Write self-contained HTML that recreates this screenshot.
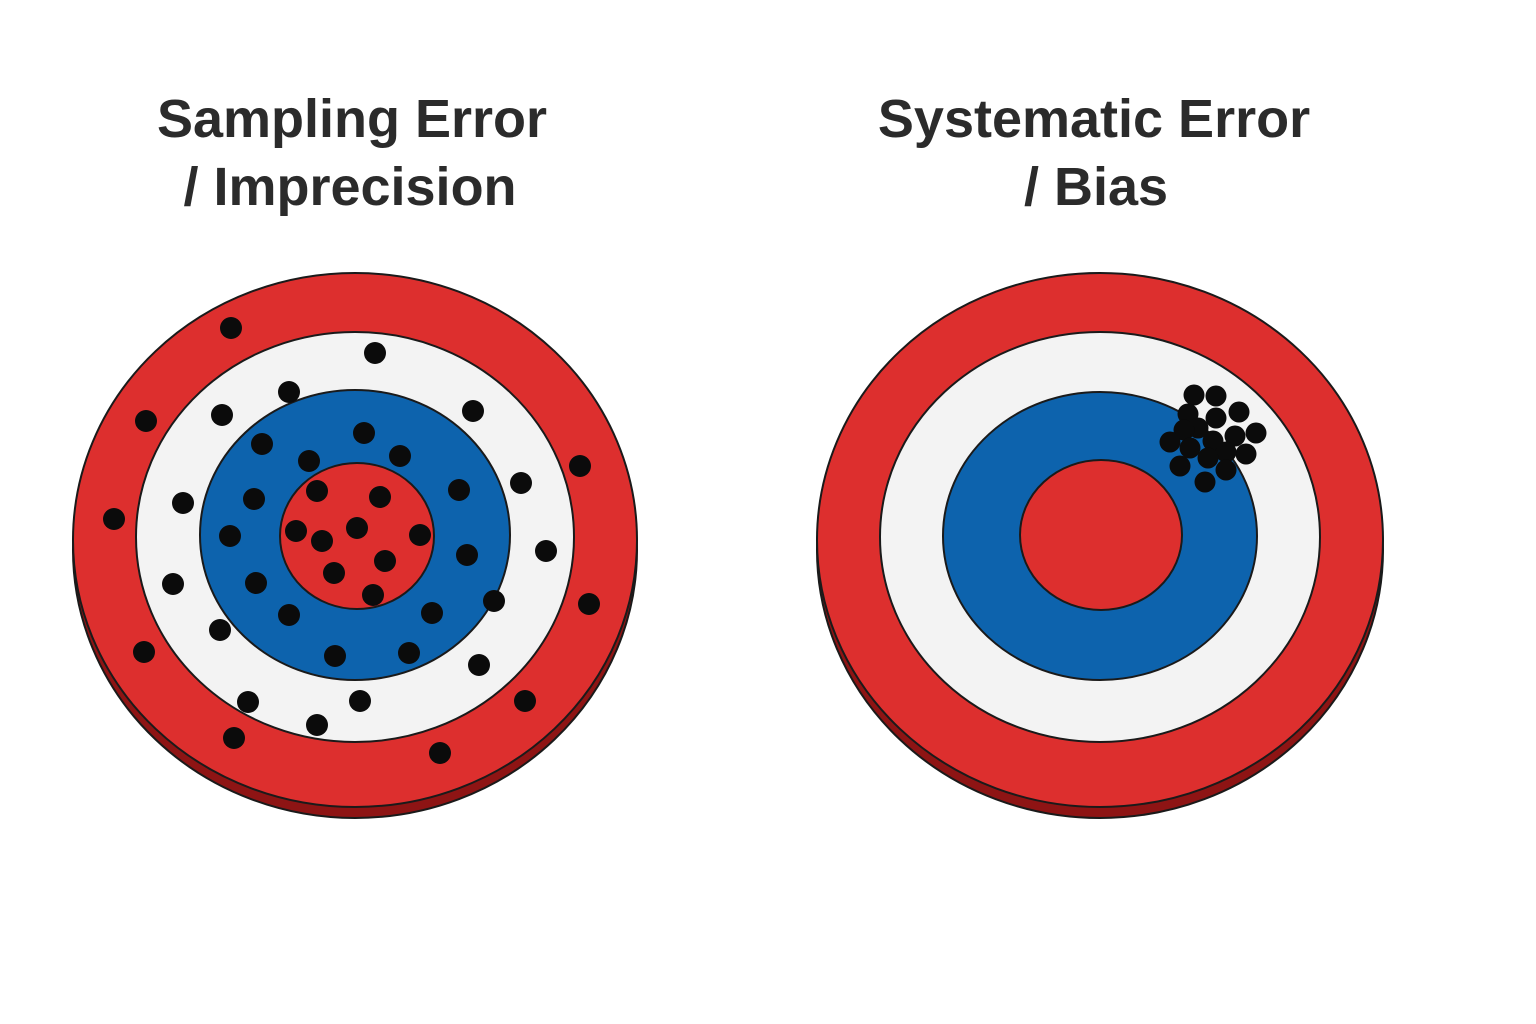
<!DOCTYPE html>
<html><head><meta charset="utf-8"><style>
html,body{margin:0;padding:0;background:#fff;}
svg{display:block;}
text{font-family:"Liberation Sans",sans-serif;font-weight:bold;fill:#2b2b2b;font-size:54px;text-anchor:middle;}
</style></head><body>
<svg width="1536" height="1024" viewBox="0 0 1536 1024">
<rect width="1536" height="1024" fill="#fff"/>
<text x="352" y="137">Sampling Error</text>
<text x="350" y="205">/ Imprecision</text>
<text x="1094" y="137">Systematic Error</text>
<text x="1096" y="205">/ Bias</text>

<g stroke="#1a1a1a" stroke-width="2">
<!-- left target -->
<ellipse cx="355" cy="550" rx="282" ry="268" fill="#8e1414"/>
<ellipse cx="355" cy="540" rx="282" ry="267" fill="#dd2f2e"/>
<ellipse cx="355" cy="537" rx="219" ry="205" fill="#f3f3f3"/>
<ellipse cx="355" cy="535" rx="155" ry="145" fill="#0d63ad"/>
<ellipse cx="357" cy="536" rx="77" ry="73" fill="#dd2f2e"/>
<!-- right target -->
<ellipse cx="1100" cy="550" rx="283" ry="268" fill="#8e1414"/>
<ellipse cx="1100" cy="540" rx="283" ry="267" fill="#dd2f2e"/>
<ellipse cx="1100" cy="537" rx="220" ry="205" fill="#f3f3f3"/>
<ellipse cx="1100" cy="536" rx="157" ry="144" fill="#0d63ad"/>
<ellipse cx="1101" cy="535" rx="81" ry="75" fill="#dd2f2e"/>
</g>
<g fill="#0b0b0b">
<circle cx="231" cy="328" r="11"/><circle cx="375" cy="353" r="11"/><circle cx="289" cy="392" r="11"/><circle cx="222" cy="415" r="11"/><circle cx="473" cy="411" r="11"/><circle cx="146" cy="421" r="11"/><circle cx="364" cy="433" r="11"/><circle cx="262" cy="444" r="11"/><circle cx="400" cy="456" r="11"/><circle cx="309" cy="461" r="11"/><circle cx="580" cy="466" r="11"/><circle cx="521" cy="483" r="11"/><circle cx="459" cy="490" r="11"/><circle cx="317" cy="491" r="11"/><circle cx="380" cy="497" r="11"/><circle cx="183" cy="503" r="11"/><circle cx="254" cy="499" r="11"/><circle cx="114" cy="519" r="11"/><circle cx="357" cy="528" r="11"/><circle cx="296" cy="531" r="11"/><circle cx="420" cy="535" r="11"/><circle cx="230" cy="536" r="11"/><circle cx="322" cy="541" r="11"/><circle cx="546" cy="551" r="11"/><circle cx="467" cy="555" r="11"/><circle cx="385" cy="561" r="11"/><circle cx="334" cy="573" r="11"/><circle cx="173" cy="584" r="11"/><circle cx="256" cy="583" r="11"/><circle cx="373" cy="595" r="11"/><circle cx="494" cy="601" r="11"/><circle cx="589" cy="604" r="11"/><circle cx="289" cy="615" r="11"/><circle cx="432" cy="613" r="11"/><circle cx="220" cy="630" r="11"/><circle cx="144" cy="652" r="11"/><circle cx="335" cy="656" r="11"/><circle cx="409" cy="653" r="11"/><circle cx="479" cy="665" r="11"/><circle cx="248" cy="702" r="11"/><circle cx="360" cy="701" r="11"/><circle cx="525" cy="701" r="11"/><circle cx="317" cy="725" r="11"/><circle cx="234" cy="738" r="11"/><circle cx="440" cy="753" r="11"/>

<circle cx="1194" cy="395" r="10.5"/><circle cx="1216" cy="396" r="10.5"/><circle cx="1188" cy="414" r="10.5"/><circle cx="1239" cy="412" r="10.5"/><circle cx="1216" cy="418" r="10.5"/><circle cx="1198" cy="428" r="10.5"/><circle cx="1184" cy="430" r="10.5"/><circle cx="1256" cy="433" r="10.5"/><circle cx="1235" cy="436" r="10.5"/><circle cx="1213" cy="441" r="10.5"/><circle cx="1170" cy="442" r="10.5"/><circle cx="1190" cy="448" r="10.5"/><circle cx="1246" cy="454" r="10.5"/><circle cx="1226" cy="452" r="10.5"/><circle cx="1208" cy="458" r="10.5"/><circle cx="1180" cy="466" r="10.5"/><circle cx="1226" cy="470" r="10.5"/><circle cx="1205" cy="482" r="10.5"/>
</g>
</svg>
</body></html>
